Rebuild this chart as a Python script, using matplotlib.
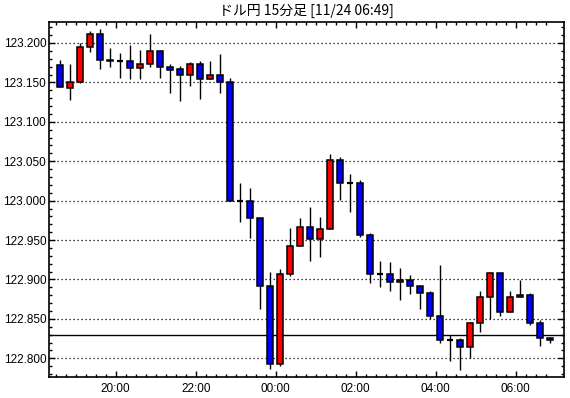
import numpy as np
import pandas as pd
import matplotlib
matplotlib.use('Agg')
import matplotlib.pyplot as plt
from matplotlib.patches import Rectangle
from matplotlib.ticker import MultipleLocator, FixedLocator

# USD/JPY 15-minute candles, 18:30 -> 06:45
opens = [123.172, 123.143, 123.150, 123.195, 123.211, 123.178, 123.177, 123.177, 123.168, 123.173,
         123.190, 123.169, 123.167, 123.160, 123.173, 123.154, 123.159, 123.151, 123.000, 122.999,
         122.978, 122.892, 122.793, 122.907, 122.942, 122.966, 122.951, 122.964, 123.051, 123.023,
         123.022, 122.957, 122.907, 122.907, 122.897, 122.899, 122.892, 122.883, 122.854, 122.823,
         122.823, 122.814, 122.845, 122.878, 122.908, 122.859, 122.878, 122.880, 122.845, 122.826]
highs = [123.178, 123.173, 123.200, 123.215, 123.218, 123.193, 123.187, 123.198, 123.191, 123.211,
         123.191, 123.173, 123.171, 123.176, 123.177, 123.177, 123.186, 123.156, 123.023, 123.016,
         122.978, 122.910, 122.913, 122.965, 122.978, 122.992, 122.979, 123.059, 123.055, 123.034,
         123.026, 122.959, 122.924, 122.922, 122.915, 122.906, 122.892, 122.886, 122.919, 122.829,
         122.826, 122.846, 122.886, 122.910, 122.908, 122.886, 122.899, 122.883, 122.848, 122.827]
lows = [123.144, 123.128, 123.149, 123.189, 123.167, 123.169, 123.156, 123.154, 123.154, 123.170,
        123.156, 123.137, 123.127, 123.145, 123.129, 123.154, 123.137, 122.999, 122.973, 122.953,
        122.863, 122.787, 122.790, 122.904, 122.942, 122.923, 122.928, 122.964, 123.001, 122.985,
        122.954, 122.895, 122.890, 122.885, 122.874, 122.881, 122.862, 122.850, 122.819, 122.797,
        122.785, 122.800, 122.834, 122.850, 122.854, 122.859, 122.878, 122.842, 122.815, 122.819]
closes = [123.144, 123.150, 123.195, 123.211, 123.178, 123.177, 123.177, 123.168, 123.173, 123.190,
          123.169, 123.166, 123.159, 123.173, 123.154, 123.159, 123.150, 122.999, 123.000, 122.978,
          122.892, 122.793, 122.907, 122.942, 122.966, 122.951, 122.964, 123.051, 123.023, 123.023,
          122.957, 122.907, 122.907, 122.897, 122.899, 122.892, 122.883, 122.854, 122.823, 122.823,
          122.814, 122.845, 122.878, 122.908, 122.859, 122.878, 122.880, 122.845, 122.826, 122.823]
last_price = 122.829
times = pd.date_range('2015-11-23 18:30', periods=len(opens), freq='15min')
title = 'ドル円 15分足 [11/24 06:49]'

fig = plt.figure(figsize=(5.7, 3.98), dpi=100)
ax = fig.add_axes([49 / 570, 1 - 377 / 398, 515 / 570, 355 / 398])

w = 0.66
for i in range(len(opens)):
    o, h, l, c = opens[i], highs[i], lows[i], closes[i]
    ax.vlines(i, l, h, color='black', lw=1.0, zorder=2)
    if abs(c - o) < 0.0008:
        ax.hlines(o, i - w / 2, i + w / 2, color='black', lw=1.6, zorder=3)
        continue
    col = 'red' if c > o else 'blue'
    ax.add_patch(Rectangle((i - w / 2, min(o, c)), w, abs(c - o), facecolor=col,
                           edgecolor='black', lw=1.1, zorder=3))

ax.axhline(last_price, color='black', lw=1.0, zorder=1)

ax.set_xlim(-1.1, 50.4)
ax.set_ylim(122.7763, 123.2266)

# y axis
ax.yaxis.set_major_locator(MultipleLocator(0.05))
ax.yaxis.set_minor_locator(MultipleLocator(0.01))
ax.yaxis.set_major_formatter(matplotlib.ticker.FormatStrFormatter('%.3f'))
ax.grid(axis='y', which='major', color='black', lw=0.9, linestyle=(0, (1, 2.2)))

# x axis: label every 2h, minor tick every candle
hours = [i for i, t in enumerate(times) if t.minute == 0 and t.hour % 2 == 0]
ax.xaxis.set_major_locator(FixedLocator([i - 0.43 for i in hours]))
ax.xaxis.set_minor_locator(FixedLocator([i - 0.43 for i in range(len(times)) if i not in hours]))
ax.set_xticklabels([times[i].strftime('%H:%M') for i in hours])

ax.tick_params(which='both', direction='in', top=True, right=True, width=1.0,
               labelsize=8.5, colors='black')
ax.tick_params(which='major', length=4)
ax.tick_params(which='minor', length=2.5)
ax.tick_params(axis='y', pad=2)
ax.tick_params(axis='x', pad=4)
for lab in ax.get_xticklabels() + ax.get_yticklabels():
    lab.set_family('Liberation Sans')
for sp in ax.spines.values():
    sp.set_linewidth(1.2)

fig.text((49 + 564) / 2 / 570, 1 - 11 / 398, title, ha='center', va='center',
         fontsize=10, family=['Noto Sans CJK JP', 'DejaVu Sans'])

fig.savefig('out.png', dpi=100)
